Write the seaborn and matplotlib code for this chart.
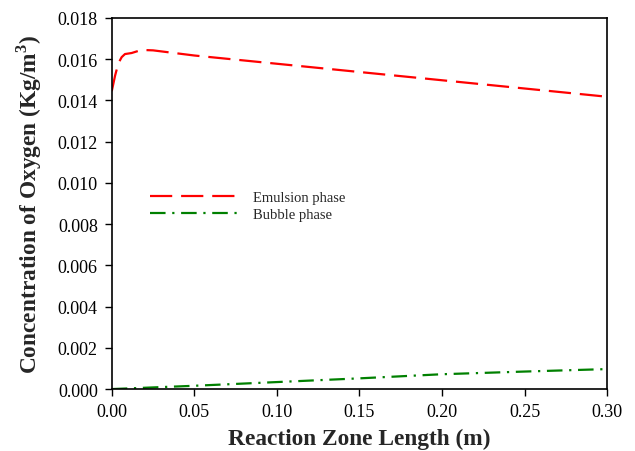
import matplotlib
matplotlib.use("Agg")
import matplotlib.pyplot as plt
import seaborn as sns
import pandas as pd

# Data
emul_x = [0.0, 0.002, 0.004, 0.006, 0.008, 0.012, 0.018, 0.025, 0.05, 0.10, 0.15, 0.20, 0.25, 0.30]
emul_y = [0.01445, 0.0152, 0.0158, 0.0161, 0.01625, 0.0163, 0.01645, 0.01643, 0.01618, 0.01578, 0.01538, 0.01498, 0.01458, 0.01418]
bub_x = [0.0, 0.05, 0.10, 0.15, 0.20, 0.25, 0.30]
bub_y = [0.0, 0.00016, 0.00034, 0.00052, 0.00072, 0.00085, 0.00097]
xticks = [0.00, 0.05, 0.10, 0.15, 0.20, 0.25, 0.30]
yticks = [0.000, 0.002, 0.004, 0.006, 0.008, 0.010, 0.012, 0.014, 0.016, 0.018]

sns.set_style("ticks")
plt.rcParams['font.family'] = ['Liberation Serif', 'DejaVu Serif']
plt.rcParams['mathtext.fontset'] = 'custom'
plt.rcParams['mathtext.rm'] = 'Liberation Serif'
plt.rcParams['mathtext.bf'] = 'Liberation Serif:bold'

df_e = pd.DataFrame({"x": emul_x, "y": emul_y})
df_b = pd.DataFrame({"x": bub_x, "y": bub_y})

fig = plt.figure(figsize=(6.35, 4.52), dpi=100)
ax = fig.add_axes([0.176, 0.137, 0.78, 0.821])

sns.lineplot(data=df_e, x="x", y="y", ax=ax, color="#ff0000", lw=1.6,
             label="Emulsion phase", dashes=False)
sns.lineplot(data=df_b, x="x", y="y", ax=ax, color="#008000", lw=1.6,
             label="Bubble phase", dashes=False)
ax.lines[0].set_dashes([10, 4])
ax.lines[1].set_dashes([7, 3, 1, 3])

ax.set_xlim(0, 0.30)
ax.set_ylim(0, 0.018)
ax.set_xticks(xticks)
ax.set_xticklabels([f"{v:.2f}" for v in xticks], fontsize=13)
ax.set_yticks(yticks)
ax.set_yticklabels([f"{v:.3f}" for v in yticks], fontsize=13)
ax.tick_params(direction="out", length=5, width=1, colors="black", pad=5)
for s in ax.spines.values():
    s.set_color("black")
    s.set_linewidth(1.2)

ax.set_xlabel("Reaction Zone Length (m)", fontsize=16.8, fontweight="bold", labelpad=6)
ax.set_ylabel(r"Concentration of Oxygen (Kg/m$^{\mathbf{3}}$)", fontsize=16.8, fontweight="bold", labelpad=10)

leg = ax.legend(loc="upper left", bbox_to_anchor=(0.05, 0.57), frameon=False,
                fontsize=10.5, handlelength=6.0, handletextpad=1.1, labelspacing=0.3)

fig.savefig("out.png", dpi=100)
